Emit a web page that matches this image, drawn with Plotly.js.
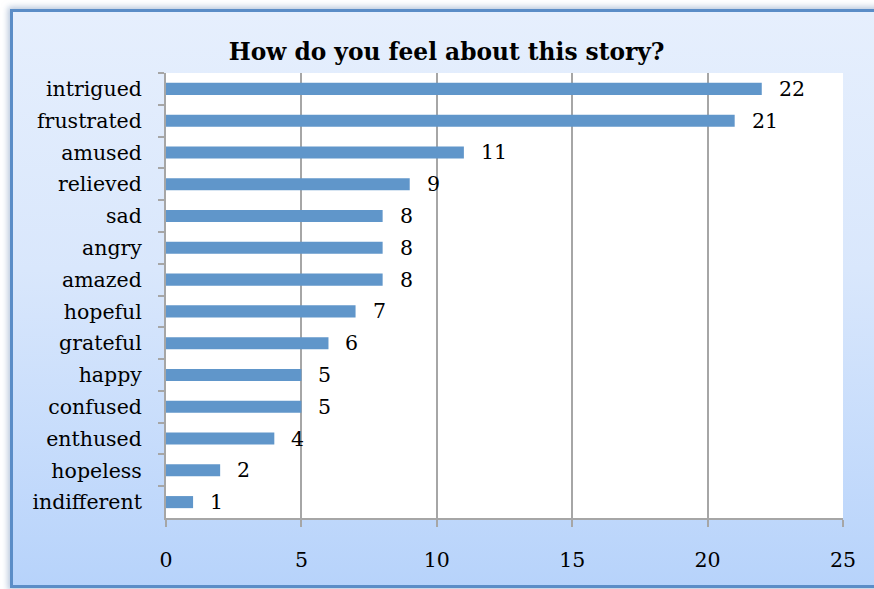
<!DOCTYPE html>
<html>
<head>
<meta charset="utf-8">
<script src="https://cdn.plot.ly/plotly-3.0.1.min.js"></script>
<style>
  html, body { margin: 0; padding: 0; width: 874px; height: 589px; overflow: hidden; background: #ffffff; }
  #frame {
    position: absolute; left: 10px; top: 9px; width: 880px; height: 573px;
    border: 3px solid #5b8dc7;
    background: linear-gradient(to bottom, #e6effd 0%, #d9e7fc 45%, #b7d3fb 100%);
    box-shadow: 0 0 6px 2px rgba(120,150,190,0.55);
  }
  #chart { position: absolute; left: 0; top: 0; width: 874px; height: 589px; }
</style>
</head>
<body>
<div id="frame"></div>
<div id="chart"></div>
<script>
const categories = ["intrigued","frustrated","amused","relieved","sad","angry","amazed","hopeful","grateful","happy","confused","enthused","hopeless","indifferent"];
const counts = [22, 21, 11, 9, 8, 8, 8, 7, 6, 5, 5, 4, 2, 1];
const xTicks = [0, 5, 10, 15, 20, 25];

const fontFam = "DejaVu Serif, Liberation Serif, serif";
const labelSize = 20.5;

const trace = {
  type: "bar",
  orientation: "h",
  x: counts,
  y: categories,
  marker: { color: "#6096ca", line: { width: 0 } },
  hoverinfo: "none"
};

const annotations = categories.map((c, i) => ({
  x: counts[i], y: c, xref: "x", yref: "y",
  text: String(counts[i]), showarrow: false,
  xanchor: "left", yanchor: "middle", xshift: 15,
  font: { family: fontFam, size: labelSize, color: "#000" }
}));

const layout = {
  width: 874, height: 589,
  paper_bgcolor: "rgba(0,0,0,0)",
  plot_bgcolor: "#ffffff",
  margin: { l: 166, r: 31, t: 73, b: 71 },
  bargap: 0.62,
  showlegend: false,
  title: {
    text: "<b>How do you feel about this story?</b>",
    font: { family: fontFam, size: 23.3, color: "#000" },
    x: 0.511, xanchor: "center",
    y: 1 - 52/589, yanchor: "middle"
  },
  xaxis: {
    range: [0, 25],
    tickvals: xTicks,
    ticktext: xTicks.map(String),
    showgrid: true, gridcolor: "#a6a6a6", gridwidth: 2,
    showline: true, linecolor: "#a6a6a6", linewidth: 2,
    ticks: "outside", ticklen: 7, tickwidth: 2, tickcolor: "#a6a6a6",
    ticklabelstandoff: 15,
    zeroline: false,
    tickfont: { family: fontFam, size: labelSize, color: "#000" },
    fixedrange: true
  },
  yaxis: {
    type: "category",
    autorange: "reversed",
    showgrid: false,
    showline: true, linecolor: "#a6a6a6", linewidth: 2,
    ticks: "outside", tickson: "boundaries", ticklen: 6, tickwidth: 2, tickcolor: "#a6a6a6",
    ticklabelstandoff: 18,
    tickfont: { family: fontFam, size: labelSize, color: "#000" },
    fixedrange: true
  },
  annotations: annotations
};

Plotly.newPlot("chart", [trace], layout, { displayModeBar: false, staticPlot: true });
</script>
</body>
</html>
